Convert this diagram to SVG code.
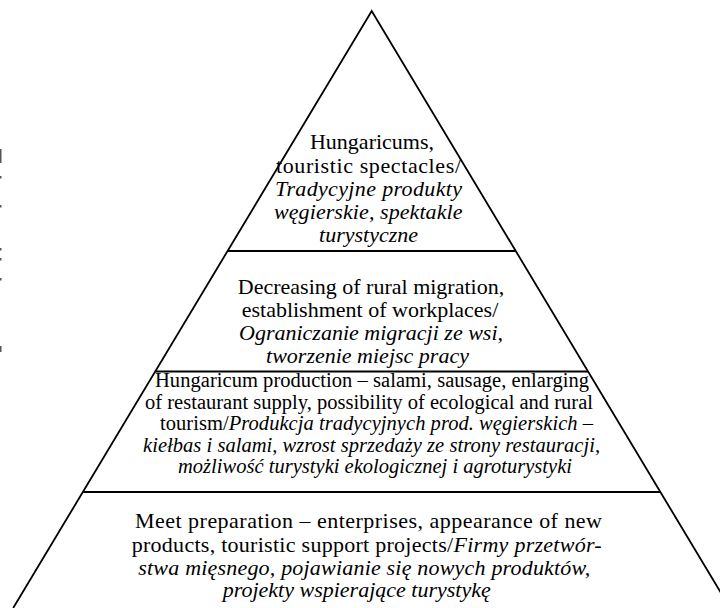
<svg xmlns="http://www.w3.org/2000/svg" width="720" height="608" viewBox="0 0 720 608">
  <style>
    text { font-family: 'Liberation Serif', 'DejaVu Serif', serif; font-size: 22px; fill: #000; }
    .s { font-size: 20.5px; }
    .i { font-style: italic; }
    .ln { stroke: #000; stroke-width: 1.8; fill: none; }
  </style>
  <rect width="720" height="608" fill="#fff"/>
  <g id="edge-marks" fill="#555">
    <rect x="0" y="149" width="1.5" height="14"/>
    <rect x="0" y="176" width="1.5" height="2.5"/>
    <rect x="0" y="205" width="1.5" height="2.5"/>
    <rect x="0" y="248" width="1.5" height="2.5"/>
    <rect x="0" y="258" width="1.5" height="2.5"/>
    <rect x="0" y="278" width="1.5" height="2.5"/>
    <rect x="0" y="346" width="1.5" height="6"/>
  </g>
  <g id="connectors">
    <polyline class="ln" points="13.2,608 371.7,11 730,608"/>
    <line class="ln" x1="227.7" y1="251" x2="515.7" y2="251"/>
    <line class="ln" x1="155.4" y1="371.5" x2="588" y2="371.5"/>
    <line class="ln" x1="83.1" y1="492" x2="660.3" y2="492"/>
  </g>
  <g id="tier-top" font-family="Liberation Serif">
    <text x="372" y="149" text-anchor="middle">Hungaricums,</text>
    <text x="276" y="172.5" textLength="185" lengthAdjust="spacing">touristic spectacles/</text>
    <text class="i" x="275" y="195.5" textLength="187" lengthAdjust="spacing">Tradycyjne produkty</text>
    <text class="i" x="274" y="218.5" textLength="188.5" lengthAdjust="spacing">węgierskie, spektakle</text>
    <text class="i" x="368.5" y="241.5" text-anchor="middle">turystyczne</text>
  </g>
  <g id="tier-2" font-family="Liberation Serif">
    <text x="371" y="293.5" text-anchor="middle">Decreasing of rural migration,</text>
    <text x="370" y="317" text-anchor="middle">establishment of workplaces/</text>
    <text class="i" x="371" y="340" text-anchor="middle">Ograniczanie migracji ze wsi,</text>
    <text class="i" x="367.5" y="363.3" text-anchor="middle">tworzenie miejsc pracy</text>
  </g>
  <g id="tier-3" font-family="Liberation Serif">
    <text class="s" x="155" y="387" textLength="434" lengthAdjust="spacing">Hungaricum production – salami, sausage, enlarging</text>
    <text class="s" x="145" y="408.5" textLength="448" lengthAdjust="spacing">of restaurant supply, possibility of ecological and rural</text>
    <text class="s" x="160" y="430" textLength="433" lengthAdjust="spacing">tourism/<tspan class="i">Produkcja tradycyjnych prod. węgierskich –</tspan></text>
    <text class="s i" x="143" y="451.5" textLength="457" lengthAdjust="spacing">kiełbas i salami, wzrost sprzedaży ze strony restauracji,</text>
    <text class="s i" x="178" y="473" textLength="394" lengthAdjust="spacing">możliwość turystyki ekologicznej i agroturystyki</text>
  </g>
  <g id="tier-base" font-family="Liberation Serif">
    <text x="135" y="528.3" textLength="467" lengthAdjust="spacing">Meet preparation – enterprises, appearance of new</text>
    <text x="131.7" y="551.7" textLength="470" lengthAdjust="spacing">products, touristic support projects/<tspan class="i">Firmy przetwór-</tspan></text>
    <text class="i" x="138.3" y="574.5" textLength="452" lengthAdjust="spacing">stwa mięsnego, pojawianie się nowych produktów,</text>
    <text class="i" x="222.7" y="596.5">projekty wspierające turystykę</text>
  </g>
</svg>
